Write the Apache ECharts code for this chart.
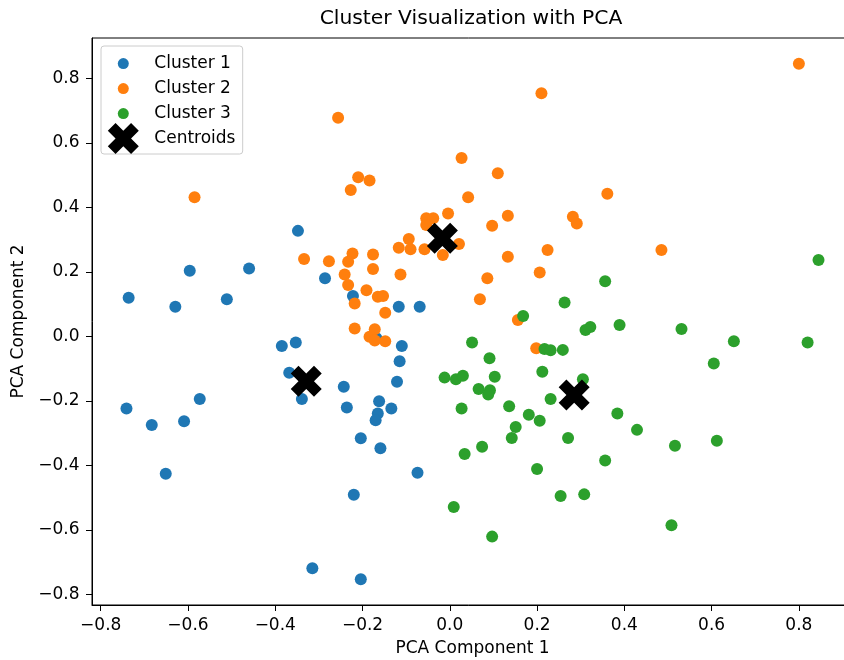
<!DOCTYPE html>
<html>
<head>
<meta charset="utf-8">
<script src="https://cdn.jsdelivr.net/npm/echarts@6/dist/echarts.min.js"></script>
<style>html,body{margin:0;padding:0;background:#fff}#c{width:844px;height:660px}</style>
</head>
<body>
<div id="c"></div>
<script>
const seriesNames = ['Cluster 1', 'Cluster 2', 'Cluster 3', 'Centroids'];
const colors = ['#1f77b4', '#ff7f0e', '#2ca02c', '#000000'];
const tickValues = [-0.8, -0.6, -0.4, -0.2, 0.0, 0.2, 0.4, 0.6, 0.8];

const cluster1 = [
  [-0.348,0.327],[-0.596,0.203],[-0.460,0.210],[-0.286,0.180],[-0.736,0.120],
  [-0.629,0.092],[-0.511,0.115],[-0.222,0.125],[-0.117,0.092],[-0.069,0.092],
  [-0.385,-0.030],[-0.353,-0.019],[-0.168,-0.006],[-0.110,-0.030],[-0.115,-0.077],
  [-0.368,-0.113],[-0.339,-0.194],[-0.243,-0.156],[-0.121,-0.141],[-0.236,-0.221],
  [-0.162,-0.201],[-0.134,-0.224],[-0.165,-0.239],[-0.170,-0.260],[-0.741,-0.224],
  [-0.573,-0.194],[-0.683,-0.275],[-0.609,-0.263],[-0.651,-0.426],[-0.204,-0.316],
  [-0.159,-0.347],[-0.074,-0.423],[-0.220,-0.491],[-0.315,-0.719],[-0.204,-0.753]
];
const cluster2 = [
  [-0.256,0.678],[-0.585,0.431],[0.027,0.553],[-0.210,0.493],[-0.184,0.483],
  [-0.227,0.454],[0.042,0.431],[-0.004,0.381],[-0.054,0.366],[-0.038,0.366],
  [-0.054,0.345],[0.021,0.286],[-0.016,0.252],[-0.058,0.270],[-0.094,0.302],
  [-0.117,0.275],[-0.090,0.270],[-0.334,0.240],[-0.277,0.233],[-0.223,0.257],
  [-0.233,0.231],[-0.176,0.254],[-0.176,0.209],[-0.241,0.192],[-0.233,0.159],
  [-0.113,0.192],[-0.191,0.143],[-0.165,0.123],[-0.153,0.125],[-0.218,0.102],
  [-0.148,0.073],[-0.218,0.024],[-0.172,0.022],[-0.184,-0.001],[-0.172,-0.013],
  [-0.148,-0.015],[0.800,0.845],[0.210,0.754],[0.110,0.506],[0.361,0.442],
  [0.133,0.374],[0.097,0.343],[0.282,0.371],[0.291,0.350],[0.133,0.247],
  [0.224,0.268],[0.485,0.268],[0.086,0.180],[0.206,0.198],[0.069,0.115],
  [0.156,0.051],[0.198,-0.037]
];
const cluster3 = [
  [0.845,0.237],[0.356,0.171],[0.263,0.105],[0.168,0.063],[0.311,0.020],
  [0.322,0.029],[0.389,0.035],[0.531,0.023],[0.651,-0.015],[0.820,-0.019],
  [0.051,-0.019],[0.217,-0.039],[0.231,-0.043],[0.259,-0.042],[0.091,-0.068],
  [0.605,-0.084],[-0.012,-0.128],[0.014,-0.133],[0.030,-0.122],[0.103,-0.125],
  [0.212,-0.110],[0.305,-0.133],[0.066,-0.163],[0.092,-0.167],[0.088,-0.180],
  [0.231,-0.194],[0.027,-0.224],[0.136,-0.217],[0.181,-0.243],[0.206,-0.262],
  [0.384,-0.239],[0.429,-0.290],[0.151,-0.281],[0.142,-0.315],[0.271,-0.315],
  [0.516,-0.339],[0.612,-0.324],[0.074,-0.342],[0.034,-0.365],[0.356,-0.385],
  [0.200,-0.411],[0.254,-0.495],[0.308,-0.490],[0.009,-0.529],[0.508,-0.586],
  [0.097,-0.621]
];
const centroids = [[-0.017,0.304],[-0.329,-0.139],[0.285,-0.182]];

const FONT = 'DejaVu Sans';
const XPATH = 'path://M1,0L2,1L3,0L4,1L3,2L4,3L3,4L2,3L1,4L0,3L1,2L0,1Z';
const fmt = v => (v < 0 ? '\u2212' : '') + Math.abs(v).toFixed(1);

const axisCommon = {
  type: 'value',
  nameLocation: 'middle',
  nameTextStyle: { fontFamily: FONT, fontSize: 17, color: '#000' },
  axisLine: { show: true, onZero: false, lineStyle: { color: '#000', width: 1 } },
  axisTick: { show: true, inside: false, length: 6, customValues: tickValues, lineStyle: { color: '#000', width: 1 } },
  axisLabel: { customValues: tickValues, formatter: fmt, fontFamily: FONT, fontSize: 17, color: '#000' },
  splitLine: { show: false }
};

const chart = echarts.init(document.getElementById('c'), null, { renderer: 'canvas' });
chart.setOption({
  animation: false,
  backgroundColor: '#fff',
  title: {
    text: 'Cluster Visualization with PCA',
    left: 471, top: 8.7, padding: 0, textAlign: 'center',
    textStyle: { fontFamily: FONT, fontSize: 20.3, fontWeight: 'normal', color: '#000' }
  },
  grid: {
    left: 92, top: 38, right: -9, bottom: 55,
    show: true, borderColor: '#000', borderWidth: 1,
    outerBoundsMode: 'none', containLabel: false
  },
  xAxis: Object.assign({}, axisCommon, {
    name: 'PCA Component 1', nameGap: 35.3, min: -0.820, max: 0.924,
    axisLabel: Object.assign({}, axisCommon.axisLabel, { margin: 12 })
  }),
  yAxis: Object.assign({}, axisCommon, {
    name: 'PCA Component 2', nameGap: 60, min: -0.833, max: 0.925,
    axisLabel: Object.assign({}, axisCommon.axisLabel, { margin: 12.5 })
  }),
  graphic: [{
    type: 'rect', z: 0,
    shape: { x: 101, y: 46, width: 141.7, height: 108, r: 3 },
    style: { fill: 'rgba(255,255,255,0.8)', stroke: '#cccccc', lineWidth: 1 }
  }],
  legend: [
    {
      data: [
        { name: seriesNames[0], icon: 'circle' },
        { name: seriesNames[1], icon: 'circle' },
        { name: seriesNames[2], icon: 'circle' }
      ],
      orient: 'vertical', left: 117.8, top: 53.6, padding: 0,
      itemWidth: 52, itemHeight: 11, itemGap: 5, selectedMode: false,
      textStyle: { fontFamily: FONT, fontSize: 17, color: '#000', lineHeight: 20 }
    },
    {
      data: [{ name: seriesNames[3], icon: XPATH }],
      orient: 'vertical', left: 107.8, top: 123, padding: 0,
      itemWidth: 52, itemHeight: 31, selectedMode: false,
      textStyle: { fontFamily: FONT, fontSize: 17, color: '#000', lineHeight: 20 }
    }
  ],
  series: [
    { name: seriesNames[0], type: 'scatter', data: cluster1, symbol: 'circle', symbolSize: 12, silent: true, itemStyle: { color: colors[0], opacity: 1 } },
    { name: seriesNames[1], type: 'scatter', data: cluster2, symbol: 'circle', symbolSize: 12, silent: true, itemStyle: { color: colors[1], opacity: 1 } },
    { name: seriesNames[2], type: 'scatter', data: cluster3, symbol: 'circle', symbolSize: 12, silent: true, itemStyle: { color: colors[2], opacity: 1 } },
    { name: seriesNames[3], type: 'scatter', data: centroids, symbol: XPATH, symbolSize: 31, silent: true, itemStyle: { color: colors[3], opacity: 1 } }
  ]
});
</script>
</body>
</html>
